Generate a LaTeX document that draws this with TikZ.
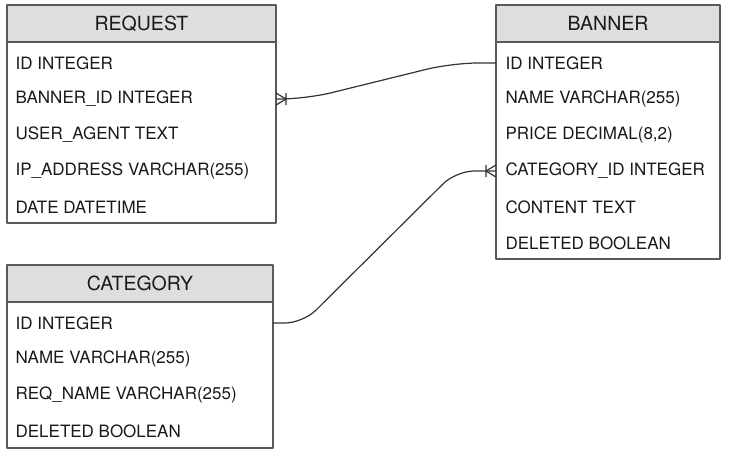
\documentclass[tikz,border=0pt]{standalone}
\usepackage{fontspec}
\setmainfont{TeX Gyre Heros}
\usetikzlibrary{positioning,calc}

\begin{document}
\begin{tikzpicture}[x=1pt, y=-1pt, line width=1.2pt, line join=round,
  head/.style={draw=black!65, fill=black!13, outer sep=0pt, inner sep=0pt,
    minimum height=37pt, text=black!90, font=\fontsize{19.5}{19.5}\selectfont},
  body/.style={draw=black!65, outer sep=0pt, inner sep=0pt},
  field/.style={anchor=west, inner sep=0pt, text=black!90,
    font=\fontsize{17}{17}\selectfont},
  rel/.style={draw=black!80, line width=1.2pt, rounded corners=18pt},
  crow/.pic={\draw[black!80, line width=1.2pt] (0,-6) -- (10,0) -- (0,6) (10,-6) -- (10,6);}
]

\useasboundingbox (0,0) rectangle (735,456);

% REQUEST table
\node[head, minimum width=269pt, anchor=north west] (req) at (7,5) {REQUEST};
\node[body, minimum width=269pt, minimum height=181pt, below=0pt of req] (req-body) {};
\foreach \t [count=\i] in {ID INTEGER, BANNER\_ID INTEGER, USER\_AGENT TEXT,
    {IP\_ADDRESS VARCHAR(255)}, DATE DATETIME}
  \node[field] (req-\i) at ($(req-body.north west)+(8,36*\i-18+3)$) {\t};

% BANNER table
\node[head, minimum width=224pt, anchor=north west] (ban) at (496,5) {BANNER};
\node[body, minimum width=224pt, minimum height=217pt, below=0pt of ban] (ban-body) {};
\foreach \t [count=\i] in {ID INTEGER, {NAME VARCHAR(255)}, {PRICE DECIMAL(8,2)},
    CATEGORY\_ID INTEGER, CONTENT TEXT, DELETED BOOLEAN}
  \node[field] (ban-\i) at ($(ban-body.north west)+(9,36*\i-18+3)$) {\t};

% CATEGORY table
\node[head, minimum width=266pt, anchor=north west] (cat) at (7,265) {CATEGORY};
\node[body, minimum width=266pt, minimum height=146pt, below=0pt of cat] (cat-body) {};
\foreach \t [count=\i] in {ID INTEGER, {NAME VARCHAR(255)}, {REQ\_NAME VARCHAR(255)},
    DELETED BOOLEAN}
  \node[field] (cat-\i) at ($(cat-body.north west)+(8,36*\i-18+3)$) {\t};

% relations
\coordinate (r1) at (req-2 -| req-body.east);
\coordinate (b1) at (ban-1 -| ban-body.west);
\draw[rel, rounded corners=26pt] (r1) -- ++(30,0) -- ($(b1)+(-44,0)$) -- (b1);
\pic at (r1) {crow};

\coordinate (c1) at (cat-1 -| cat-body.east);
\coordinate (b4) at (ban-4 -| ban-body.west);
\draw[rel] (c1) -- ++(30,0) -- ($(b4)+(-40,0)$) -- (b4);
\pic[xscale=-1] at (b4) {crow};

\end{tikzpicture}
\end{document}
